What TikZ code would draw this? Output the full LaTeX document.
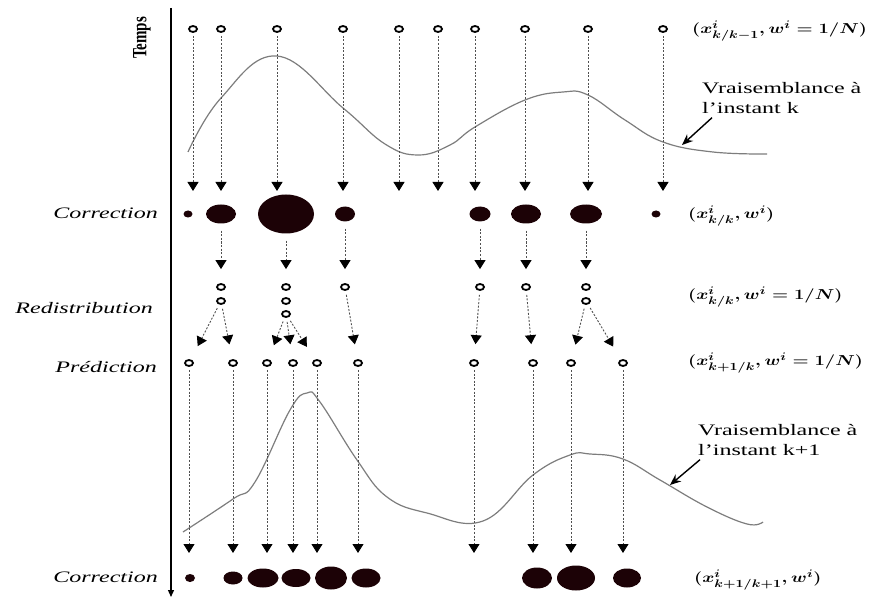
\documentclass[tikz,border=0pt]{standalone}
\usepackage{fontspec}
\setmainfont{Liberation Serif}
\usepackage{tikz}
\usetikzlibrary{arrows.meta, shapes.geometric, calc}
\definecolor{inkred}{RGB}{28,2,6}
\definecolor{curvegray}{RGB}{125,125,125}
\definecolor{dashgray}{RGB}{80,80,80}
\newcommand{\stretchx}[1]{\scalebox{1.5}[1]{#1}}
\newcommand{\stretchm}[1]{\scalebox{1.28}[1]{#1}}

\begin{document}
\begin{tikzpicture}[x=1pt, y=-1pt,
  particle/.style={draw, ellipse, line width=1.8pt, minimum width=8pt, minimum height=6pt, inner sep=0pt, fill=white},
  blob/.style={ellipse, fill=inkred, inner sep=0pt},
  flow/.style={dashgray, line width=0.9pt, dash pattern=on 2pt off 1.6pt, -{Triangle[width=11pt,length=9pt,color=black]}},
  phase/.style={anchor=east, inner sep=0pt, font=\itshape\fontsize{16}{19}\selectfont},
  state/.style={anchor=west, inner sep=0pt, font=\fontsize{15}{18}\selectfont},
  vtext/.style={anchor=north west, align=left, inner sep=0pt, font=\fontsize{16}{20}\selectfont},
  pointer/.style={line width=1.4pt, -{Stealth[length=11pt,width=9pt]}},
  likely/.style={curvegray, line width=1.2pt}]
  \useasboundingbox (0,0) rectangle (879,599);
  % time axis
  \coordinate (t0) at (171,8);
  \coordinate (t1) at (171,597);
  \draw[line width=1.3pt, -{Triangle[width=6pt,length=7pt]}] (t0) -- (t1);
  \node[rotate=90, font=\bfseries\fontsize{15}{18}\selectfont] (temps) at (142,38) {\scalebox{1}[1.35]{Temps}};
  % likelihood at k
  \draw[likely] plot[smooth, tension=0.7] coordinates {(188,152) (221,98) (277,56) (343,108) (385,144) (418,155) (450,145) (475,127) (525,100) (563,92) (588,95) (625,120) (663,142) (713,152) (767,154)};
  % likelihood at k+1
  \draw[likely] plot[smooth, tension=0.7] coordinates {(183,532) (233,499) (255,482) (290,410) (307,393) (320,402) (357,460) (387,497) (427,513) (483,521) (533,475) (570,455) (590,454) (623,459) (660,480) (707,507) (747,524) (763,522)};
  % particles x_{k/k-1}
  \foreach \n/\x in {1/193,2/221,3/277,4/343,5/399,6/438,7/475,8/525,9/588,10/663}{
    \node[particle] (a\n) at (\x,29) {};
    \coordinate (ta\n) at (\x,191);
    \draw[flow, shorten <=3pt] (a\n) -- (ta\n);
  }
  % weighted particles
  \foreach \n/\x/\w/\h in {1/188/9pt/7pt, 2/221/30pt/19pt, 3/286/56pt/39pt, 4/345/20pt/15pt, 5/480/21pt/15pt, 6/526/30pt/19pt, 7/586/32pt/19pt, 8/656/9pt/7pt}
    \node[blob, minimum width=\w, minimum height=\h] (b\n) at (\x,214) {};
  % resampled particles
  \foreach \n/\x/\y in {1/221/287, 2/221/301, 3/286/287, 4/286/301, 5/286/314, 6/345/287, 7/480/287, 8/526/287, 9/586/287, 10/586/301}
    \node[particle] (r\n) at (\x,\y) {};
  \foreach \s/\t in {b2/r1, b3/r3, b4/r6, b5/r7, b6/r8, b7/r9}
    \draw[flow, shorten <=7pt, shorten >=14pt] (\s) -- (\t);
  % predicted particles
  \foreach \n/\x in {1/189,2/233,3/267,4/293,5/317,6/358,7/474,8/533,9/571,10/623}{
    \node[particle] (f\n) at (\x,363) {};
    \coordinate (tg\n) at (\x,553);
    \draw[flow, shorten <=3pt] (f\n) -- (tg\n);
  }
  \foreach \s/\t in {r2/f1, r2/f2, r5/f3, r5/f4, r5/f5, r6/f6, r7/f7, r8/f8, r10/f9, r10/f10}
    \draw[flow, shorten <=4pt, shorten >=15pt] (\s) -- (\t);
  % weighted particles at k+1
  \foreach \n/\x/\w/\h in {1/190/10pt/8pt, 2/233/19pt/13pt, 3/263/31pt/19pt, 4/296/29pt/18pt, 5/331/32pt/23pt, 6/366/29pt/19pt, 7/537/30pt/21pt, 8/576/38pt/25pt, 9/627/28pt/19pt}
    \node[blob, minimum width=\w, minimum height=\h] (g\n) at (\x,578) {};
  % step names
  \node[phase] (corr1) at (158,213) {\stretchx{Correction}};
  \node[phase] (redis) at (153,308) {\stretchx{Redistribution}};
  \node[phase] (pred) at (157,367) {\stretchx{Prédiction}};
  \node[phase] (corr2) at (158,577) {\stretchx{Correction}};
  % particle sets
  \node[state] (s1) at (692,31) {\stretchm{\boldmath$(x^i_{k/k-1},w^i=1/N)$}};
  \node[state] (s2) at (688,216) {\stretchm{\boldmath$(x^i_{k/k},w^i)$}};
  \node[state] (s3) at (688,297) {\stretchm{\boldmath$(x^i_{k/k},w^i=1/N)$}};
  \node[state] (s4) at (688,363) {\stretchm{\boldmath$(x^i_{k+1/k},w^i=1/N)$}};
  \node[state] (s5) at (694,580) {\stretchm{\boldmath$(x^i_{k+1/k+1},w^i)$}};
  % likelihood labels
  \node[vtext] (v1) at (702,82) {\stretchx{Vraisemblance à}\\\stretchx{l'instant k}};
  \coordinate (h1) at (682,145);
  \draw[pointer] ([xshift=10pt,yshift=-4pt]v1.south west) -- (h1);
  \node[vtext] (v2) at (698,424) {\stretchx{Vraisemblance à}\\\stretchx{l'instant k+1}};
  \coordinate (h2) at (670,485);
  \draw[pointer] ([xshift=2pt,yshift=-4pt]v2.south west) -- (h2);
\end{tikzpicture}
\end{document}
